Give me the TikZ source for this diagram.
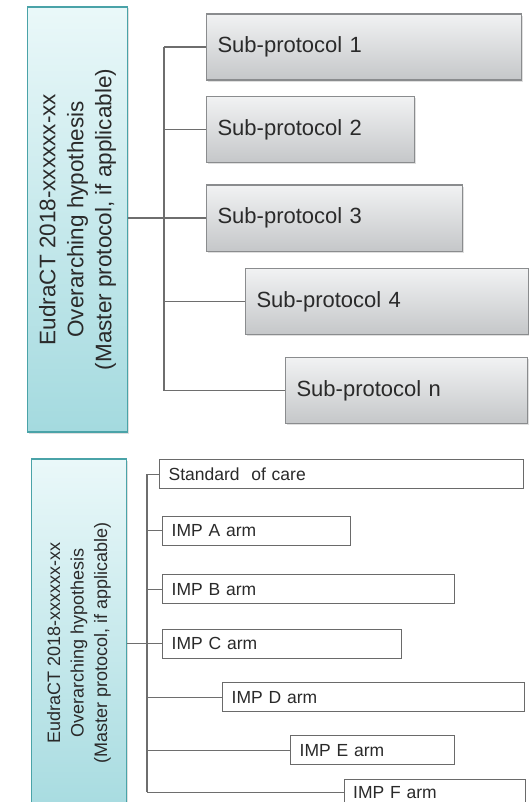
\documentclass[tikz,border=0pt]{standalone}
\usepackage{fontspec}
\setmainfont{Liberation Sans}
\usetikzlibrary{positioning,shadows}

\definecolor{tealedge}{HTML}{4AA3A8}
\definecolor{tealpale}{HTML}{EAF8F9}
\definecolor{tealdeep}{HTML}{A4DADF}
\definecolor{greytop}{HTML}{F1F2F3}
\definecolor{greybot}{HTML}{C5C7C9}
\definecolor{greyedge}{HTML}{8A8C8E}
\definecolor{armedge}{HTML}{6A6A6A}
\definecolor{linkgrey}{HTML}{6E6E6E}
\definecolor{inkgrey}{HTML}{2A2A2A}

\tikzset{
  master/.style={draw=tealedge, line width=1.2pt, top color=tealpale, bottom color=tealdeep,
    rotate=90, align=center, inner sep=0pt, text=inkgrey,
    drop shadow={shadow xshift=1pt, shadow yshift=-1.5pt, opacity=.25}},
  subbox/.style={draw=greyedge, line width=1.1pt, top color=greytop, bottom color=greybot,
    anchor=north west, minimum height=66pt, inner xsep=11pt, align=left, text=inkgrey,
    font=\fontsize{22}{26}\selectfont,
    drop shadow={shadow xshift=1pt, shadow yshift=-1.5pt, opacity=.25}},
  armbox/.style={draw=armedge, line width=1.3pt, fill=white, anchor=north west, text=inkgrey,
    minimum height=29pt, inner xsep=9pt, align=left, font=\fontsize{17.5}{20}\selectfont},
  link/.style={draw=linkgrey, line width=1.1pt},
}

\begin{document}
\begin{tikzpicture}[x=1pt, y=-1pt]
  \useasboundingbox (0,0) rectangle (529,802);

  % Master protocol with its sub-protocols
  \node[master, minimum width=425pt, minimum height=100pt,
        font=\fontsize{22.5}{28}\selectfont] (master1) at (77.5,219.5)
    {EudraCT 2018-xxxxxx-xx\\Overarching hypothesis\\(Master protocol, if applicable)};
  \node[subbox, text width=293pt] (sp1) at (206,13.5) {Sub-protocol 1};
  \node[subbox, text width=186pt] (sp2) at (206,96)   {Sub-protocol 2};
  \node[subbox, text width=234pt] (sp3) at (206,184.5) {Sub-protocol 3};
  \node[subbox, text width=261pt] (sp4) at (245,268)  {Sub-protocol 4};
  \node[subbox, text width=220pt] (spn) at (285,357)  {Sub-protocol n};

  \coordinate (trunkA) at (164,0);
  \draw[link] (trunkA |- sp1.west) -- (trunkA |- spn.west);
  \foreach \b in {sp1,sp2,sp3,sp4,spn}
    \draw[link] (trunkA |- \b.west) -- (\b.west);
  \draw[link] (master1.south |- sp3.west) -- (trunkA |- sp3.west);

  % Master protocol with its treatment arms
  \node[master, minimum width=368pt, minimum height=95.5pt,
        font=\fontsize{18}{23.5}\selectfont] (master2) at (79,643)
    {EudraCT 2018-xxxxxx-xx\\Overarching hypothesis\\(Master protocol, if applicable)};
  \node[armbox, text width=346pt] (soc)  at (159,459)   {Standard\ \ of care};
  \node[armbox, text width=170pt] (impA) at (162,515.5) {IMP A arm};
  \node[armbox, text width=274pt] (impB) at (162,574)   {IMP B arm};
  \node[armbox, text width=221pt] (impC) at (162,628.5) {IMP C arm};
  \node[armbox, text width=284pt] (impD) at (222,682)   {IMP D arm};
  \node[armbox, text width=146pt] (impE) at (290,735)   {IMP E arm};
  \node[armbox, text width=163pt, minimum height=26pt] (impF) at (343.5,778.5) {IMP F arm};

  \coordinate (trunkB) at (147,0);
  \draw[link] (trunkB |- soc.west) -- (trunkB |- impF.west);
  \foreach \b in {soc,impA,impB,impC,impD,impE,impF}
    \draw[link] (trunkB |- \b.west) -- (\b.west);
  \draw[link] (master2.south |- impC.west) -- (trunkB |- impC.west);
\end{tikzpicture}
\end{document}
